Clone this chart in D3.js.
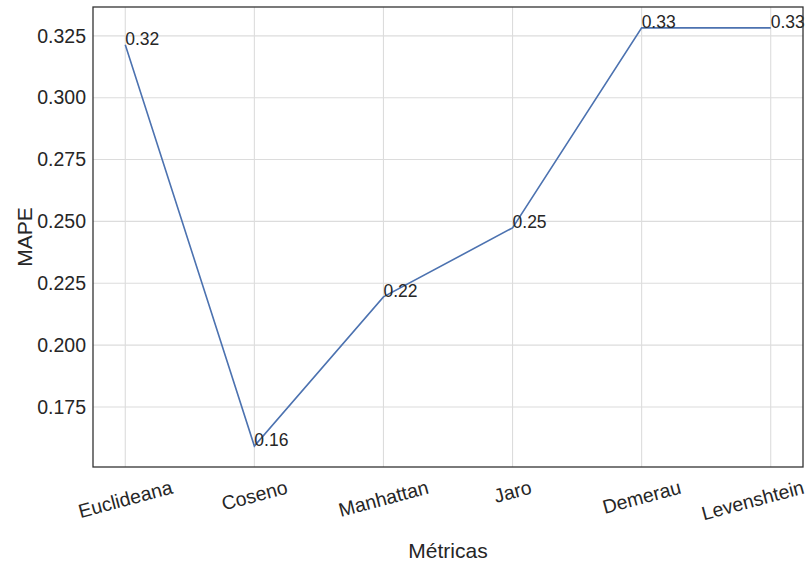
<!DOCTYPE html>
<html>
<head>
<meta charset="utf-8">
<script src="https://cdn.jsdelivr.net/npm/d3@7"></script>
<style>
  html, body { margin: 0; padding: 0; background: #fff; overflow: hidden; }
  text { font-family: "Liberation Sans", Arial, sans-serif; fill: #262626; }
</style>
</head>
<body>
<svg id="chart" width="808" height="563"></svg>
<script>
const categories = ["Euclideana", "Coseno", "Manhattan", "Jaro", "Demerau", "Levenshtein"];
const mapeValues = [0.3214, 0.1592, 0.2195, 0.2474, 0.3282, 0.3282];
const yTicks = [0.175, 0.200, 0.225, 0.250, 0.275, 0.300, 0.325];
const xTitle = "Métricas";
const yTitle = "MAPE";

const W = 808, H = 563;
const m = { left: 93, right: 5, top: 7, bottom: 96 };
const pw = W - m.left - m.right, ph = H - m.top - m.bottom;

const svg = d3.select("#chart");
const g = svg.append("g").attr("transform", `translate(${m.left},${m.top})`);

const n = categories.length;
const x = d3.scaleLinear().domain([-0.25, n - 1 + 0.25]).range([0, pw]);
const yMin = d3.min(mapeValues), yMax = d3.max(mapeValues);
const pad = (yMax - yMin) * 0.05;
const y = d3.scaleLinear().domain([yMin - pad, yMax + pad]).range([ph, 0]);

// grid
g.append("g").selectAll("line.h").data(yTicks).join("line")
  .attr("x1", 0).attr("x2", pw)
  .attr("y1", d => y(d)).attr("y2", d => y(d))
  .attr("stroke", "#dcdcdc").attr("stroke-width", 1.1);
g.append("g").selectAll("line.v").data(d3.range(n)).join("line")
  .attr("x1", d => x(d)).attr("x2", d => x(d))
  .attr("y1", 0).attr("y2", ph)
  .attr("stroke", "#dcdcdc").attr("stroke-width", 1.1);

// y axis labels
const yAxis = d3.axisLeft(y).tickValues(yTicks).tickFormat(d3.format(".3f")).tickSize(0).tickPadding(7);
const ya = g.append("g").call(yAxis);
ya.select(".domain").remove();
ya.selectAll("text").style("font-size", "19.5px").attr("fill", "#262626")
  .style("font-family", '"Liberation Sans", Arial, sans-serif');

// x axis labels (rotated 15deg, centred on ticks, kept inside the window)
const xl = g.append("g");
categories.forEach((c, i) => {
  const t = xl.append("text").text(c).style("font-size", "19.5px")
    .attr("text-anchor", "middle").attr("dominant-baseline", "central");
  const w = t.node().getComputedTextLength();
  const h = 19.5;
  const a = 15 * Math.PI / 180;
  const bw = w * Math.cos(a) + h * Math.sin(a);
  const bh = w * Math.sin(a) + h * Math.cos(a);
  let cx = x(i);
  const maxRight = W - m.left - 2;
  if (cx + bw / 2 > maxRight) cx = maxRight - bw / 2;
  const cy = ph + 10 + bh / 2;
  t.attr("transform", `translate(${cx},${cy}) rotate(-15)`);
});

// line
const line = d3.line().x((d, i) => x(i)).y(d => y(d));
g.append("path").datum(mapeValues)
  .attr("d", line).attr("fill", "none")
  .attr("stroke", "#4c72b0").attr("stroke-width", 1.6);

// value labels
g.append("g").selectAll("text").data(mapeValues).join("text")
  .attr("x", (d, i) => x(i)).attr("y", d => y(d))
  .style("font-size", "17.5px")
  .text(d => d3.format(".2f")(d));

// frame
g.append("rect").attr("x", 0).attr("y", 0).attr("width", pw).attr("height", ph)
  .attr("fill", "none").attr("stroke", "#333").attr("stroke-width", 1.3);

// axis titles
svg.append("text").attr("x", m.left + pw / 2).attr("y", 558)
  .attr("text-anchor", "middle").style("font-size", "21px").text(xTitle);
svg.append("text").attr("transform", `translate(32,${m.top + ph / 2}) rotate(-90)`)
  .attr("text-anchor", "middle").style("font-size", "21px").text(yTitle);
</script>
</body>
</html>
